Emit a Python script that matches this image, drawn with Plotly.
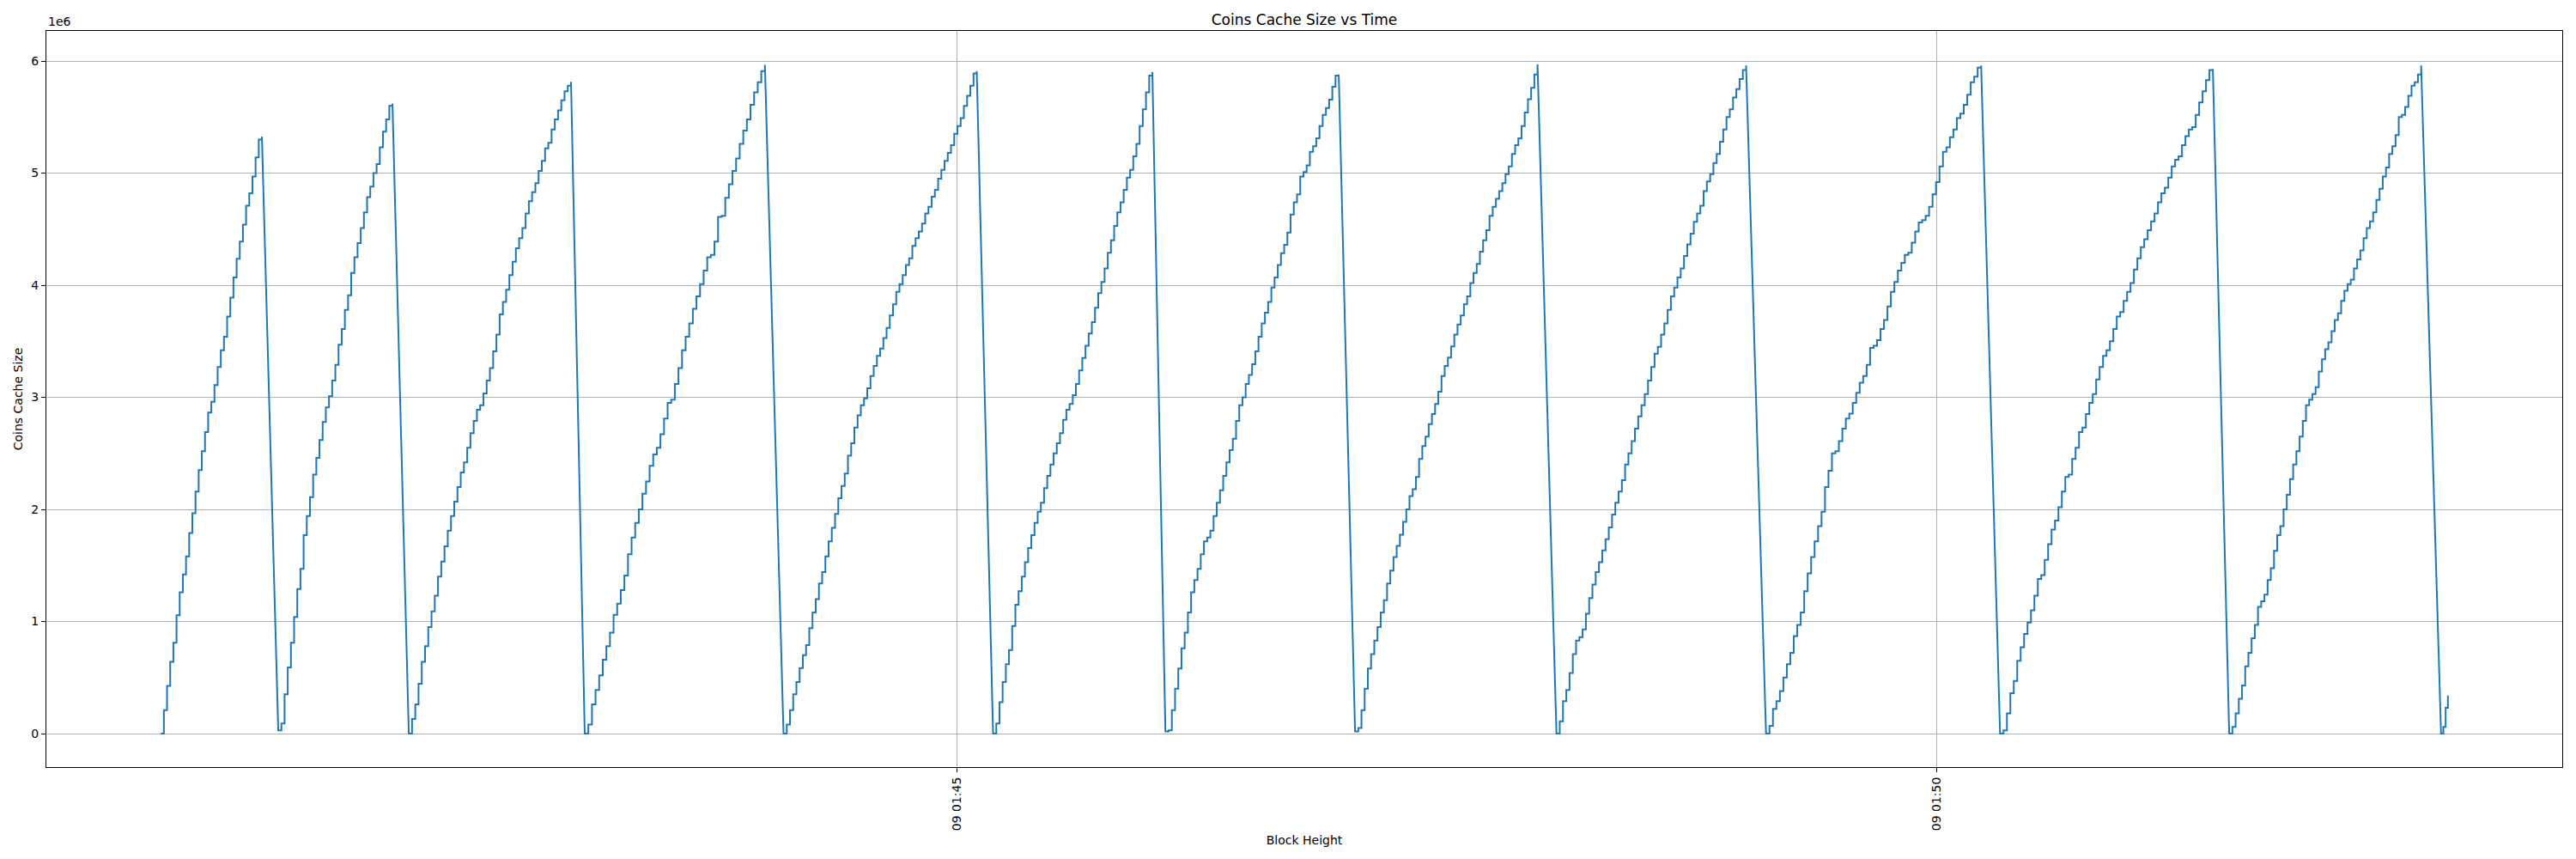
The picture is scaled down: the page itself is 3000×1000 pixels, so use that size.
import pandas as pd
import plotly.graph_objects as go

DAY = "2024-01-09 "

# Cycle start (after flush) and peak (before flush) times
cycle_start = ["01:40:56", "01:41:32", "01:42:12", "01:43:05.9", "01:44:06.8",
               "01:45:11", "01:46:03.8", "01:47:01.9", "01:48:03.6", "01:49:07.8",
               "01:50:19.5", "01:51:29.7", "01:52:34.6"]
cycle_peak = ["01:41:27", "01:42:07", "01:43:01.7", "01:44:01.1", "01:45:06",
              "01:45:59.8", "01:46:56.9", "01:47:57.8", "01:49:01.7", "01:50:13.7",
              "01:51:24.7", "01:52:28.5", "01:52:36.7"]

# Cache size levels in each cycle (millions of coins)
c1 = [0, 0.21, 0.425, 0.64, 0.81, 1.055, 1.26, 1.42, 1.58, 1.79, 1.965, 2.16, 2.35, 2.52, 2.69,
      2.865, 2.96, 3.11, 3.27, 3.42, 3.54, 3.72, 3.89, 4.07, 4.235, 4.39, 4.54, 4.71, 4.82, 4.97,
      5.14, 5.30, 5.325]
c2 = [0.03, 0.09, 0.35, 0.59, 0.81, 1.04, 1.29, 1.47, 1.77, 1.94, 2.11, 2.31, 2.46, 2.62, 2.78,
      2.91, 3.01, 3.15, 3.29, 3.47, 3.61, 3.78, 3.91, 4.11, 4.25, 4.375, 4.51, 4.65, 4.785, 4.88,
      5.00, 5.08, 5.23, 5.37, 5.48, 5.60, 5.62]
c3 = [0.0, 0.13, 0.26, 0.445, 0.64, 0.78, 0.95, 1.09, 1.23, 1.40, 1.535, 1.67, 1.81, 1.94, 2.07,
      2.20, 2.33, 2.42, 2.55, 2.68, 2.79, 2.89, 2.93, 3.035, 3.15, 3.26, 3.41, 3.56, 3.74, 3.85,
      3.96, 4.09, 4.21, 4.33, 4.42, 4.51, 4.64, 4.75, 4.83, 4.91, 5.02, 5.11, 5.22, 5.27, 5.39,
      5.48, 5.56, 5.65, 5.73, 5.78, 5.815]
c4 = [0.0, 0.08, 0.26, 0.39, 0.52, 0.66, 0.78, 0.90, 1.06, 1.16, 1.28, 1.41, 1.60, 1.75, 1.88,
      2.00, 2.14, 2.25, 2.39, 2.49, 2.55, 2.67, 2.81, 2.95, 2.98, 3.12, 3.26, 3.42, 3.54, 3.66,
      3.79, 3.90, 4.01, 4.13, 4.25, 4.27, 4.39, 4.61, 4.62, 4.78, 4.90, 5.02, 5.13, 5.26, 5.38,
      5.48, 5.61, 5.72, 5.81, 5.91, 5.965]
c5 = [0.0, 0.08, 0.21, 0.35, 0.46, 0.585, 0.70, 0.79, 0.94, 1.08, 1.20, 1.34, 1.44, 1.58, 1.715,
      1.835, 1.96, 2.10, 2.21, 2.32, 2.48, 2.59, 2.73, 2.84, 2.93, 2.99, 3.08, 3.19, 3.28, 3.37,
      3.435, 3.53, 3.62, 3.73, 3.83, 3.94, 4.01, 4.09, 4.18, 4.24, 4.35, 4.42, 4.48, 4.55, 4.64,
      4.70, 4.79, 4.85, 4.95, 5.03, 5.11, 5.18, 5.25, 5.35, 5.42, 5.49, 5.60, 5.69, 5.78, 5.89, 5.91]
c6 = [0.0, 0.09, 0.28, 0.46, 0.62, 0.745, 0.96, 1.15, 1.27, 1.40, 1.53, 1.655, 1.77, 1.88, 1.98,
      2.06, 2.19, 2.30, 2.40, 2.50, 2.59, 2.68, 2.80, 2.89, 2.94, 3.02, 3.12, 3.24, 3.35, 3.46,
      3.57, 3.67, 3.80, 3.93, 4.03, 4.15, 4.29, 4.40, 4.53, 4.65, 4.74, 4.85, 4.96, 5.03, 5.15,
      5.26, 5.42, 5.57, 5.72, 5.87, 5.90]
c7 = [0.02, 0.03, 0.21, 0.40, 0.58, 0.76, 0.90, 1.08, 1.26, 1.37, 1.47, 1.60, 1.715, 1.75, 1.81,
      1.94, 2.06, 2.17, 2.30, 2.42, 2.53, 2.63, 2.79, 2.93, 3.00, 3.12, 3.20, 3.295, 3.41, 3.54,
      3.66, 3.755, 3.85, 3.98, 4.07, 4.18, 4.285, 4.36, 4.47, 4.63, 4.74, 4.81, 4.97, 5.01, 5.07,
      5.19, 5.24, 5.31, 5.42, 5.52, 5.58, 5.655, 5.77, 5.87, 5.88]
c8 = [0.02, 0.05, 0.21, 0.40, 0.58, 0.71, 0.83, 0.95, 1.08, 1.19, 1.34, 1.455, 1.575, 1.675, 1.775,
      1.89, 2.00, 2.12, 2.18, 2.29, 2.45, 2.565, 2.65, 2.76, 2.85, 2.94, 3.05, 3.19, 3.28, 3.355,
      3.455, 3.56, 3.65, 3.73, 3.83, 3.90, 4.02, 4.11, 4.19, 4.30, 4.40, 4.49, 4.62, 4.70, 4.77,
      4.84, 4.91, 4.99, 5.06, 5.17, 5.25, 5.31, 5.42, 5.54, 5.66, 5.76, 5.88, 5.97]
c9 = [0.0, 0.11, 0.29, 0.39, 0.54, 0.71, 0.83, 0.86, 0.93, 1.07, 1.21, 1.33, 1.44, 1.53, 1.635,
      1.735, 1.84, 1.955, 2.06, 2.16, 2.26, 2.40, 2.50, 2.61, 2.72, 2.83, 2.93, 3.03, 3.15, 3.27,
      3.39, 3.45, 3.56, 3.66, 3.78, 3.90, 3.98, 4.07, 4.15, 4.26, 4.365, 4.46, 4.565, 4.64, 4.71,
      4.84, 4.925, 4.99, 5.09, 5.17, 5.28, 5.39, 5.50, 5.57, 5.675, 5.75, 5.84, 5.92, 5.96]
c10 = [0.0, 0.07, 0.22, 0.29, 0.38, 0.50, 0.62, 0.72, 0.87, 0.97, 1.08, 1.27, 1.43, 1.575, 1.715,
       1.85, 1.98, 2.20, 2.345, 2.50, 2.52, 2.61, 2.72, 2.81, 2.855, 2.95, 3.04, 3.13, 3.19, 3.29,
       3.44, 3.46, 3.51, 3.61, 3.69, 3.81, 3.94, 4.03, 4.13, 4.20, 4.27, 4.29, 4.38, 4.48, 4.56,
       4.58, 4.62, 4.70, 4.81, 4.92, 5.06, 5.19, 5.23, 5.32, 5.39, 5.49, 5.53, 5.61, 5.70, 5.81,
       5.86, 5.94, 5.96]
c11 = [0.0, 0.03, 0.18, 0.36, 0.47, 0.65, 0.77, 0.89, 0.99, 1.10, 1.23, 1.38, 1.415, 1.55, 1.69,
       1.82, 1.90, 2.02, 2.16, 2.29, 2.31, 2.45, 2.55, 2.69, 2.73, 2.85, 2.95, 3.03, 3.16, 3.27,
       3.37, 3.42, 3.50, 3.61, 3.72, 3.76, 3.86, 3.94, 4.02, 4.14, 4.24, 4.34, 4.41, 4.49, 4.57,
       4.64, 4.74, 4.82, 4.87, 4.96, 5.06, 5.12, 5.15, 5.25, 5.33, 5.39, 5.41, 5.52, 5.63, 5.73,
       5.83, 5.92, 5.93]
c12 = [0.0, 0.06, 0.18, 0.31, 0.43, 0.60, 0.72, 0.85, 0.97, 1.13, 1.18, 1.24, 1.37, 1.475, 1.63,
       1.77, 1.85, 2.00, 2.13, 2.27, 2.40, 2.52, 2.65, 2.79, 2.93, 2.98, 3.03, 3.09, 3.23, 3.34,
       3.43, 3.49, 3.59, 3.69, 3.75, 3.86, 3.95, 4.01, 4.05, 4.15, 4.23, 4.31, 4.42, 4.51, 4.57,
       4.65, 4.76, 4.86, 4.97, 5.05, 5.17, 5.24, 5.34, 5.50, 5.52, 5.59, 5.69, 5.78, 5.81, 5.88,
       5.96]
c13 = [0.0, 0.06, 0.23, 0.34]

cycles = [c1, c2, c3, c4, c5, c6, c7, c8, c9, c10, c11, c12, c13]


def ts(s):
    return pd.Timestamp(DAY + s).as_unit("ns")


def iso(t):
    return t.strftime("%Y-%m-%d %H:%M:%S.%f")[:-3]


# Build the step line: each block raises the cache one level
xt, ys = [], []
for s, p, levels in zip(cycle_start, cycle_peak, cycles):
    t0 = ts(s)
    tp = ts(p)
    n = len(levels) - 1
    dt = (tp - t0) / n
    xt.append(t0)
    ys.append(levels[0] * 1e6)
    for i in range(1, n + 1):
        ti = t0 + dt * i
        xt.extend([ti, ti])
        ys.extend([levels[i - 1] * 1e6, levels[i] * 1e6])

xs = [iso(t) for t in xt]
tmin, tmax = min(xt), max(xt)
span = tmax - tmin
xr = [iso(tmin - span * 0.05), iso(tmax + span * 0.05)]
ymax = max(ys)
yr = [-0.05 * ymax, ymax * 1.05]

FONT = "DejaVu Sans"
fig = go.Figure(go.Scatter(x=xs, y=ys, mode="lines",
                           line=dict(color="#1f77b4", width=2), hoverinfo="x+y"))

ytick_vals = [0, 1e6, 2e6, 3e6, 4e6, 5e6, 6e6]
ytick_text = ["0", "1", "2", "3", "4", "5", "6"]

W, H = 2984, 984
fig.update_layout(
    width=W, height=H,
    margin=dict(l=46, r=8, t=28, b=99),
    paper_bgcolor="white", plot_bgcolor="white",
    font=dict(family=FONT, size=14, color="black"),
    showlegend=False,
    title=dict(text="Coins Cache Size vs Time", x=0.5, xref="paper", xanchor="center",
               y=1 - 15 / H, yref="container", yanchor="middle",
               font=dict(family=FONT, size=17, color="black")),
    xaxis=dict(range=xr, type="date", tickformat="%d %H:%M", dtick=300000,
               tick0=DAY + "00:00:00", tickangle=-90,
               showgrid=True, gridcolor="#b0b0b0", gridwidth=1,
               showline=True, linecolor="black", linewidth=1, mirror=True,
               ticks="outside", ticklen=5, tickcolor="black", zeroline=False,
               title=dict(text="Block Height", standoff=6, font=dict(size=14)),
               automargin=False),
    yaxis=dict(range=yr, tickvals=ytick_vals, ticktext=ytick_text,
               showgrid=True, gridcolor="#b0b0b0", gridwidth=1,
               showline=True, linecolor="black", linewidth=1, mirror=True,
               ticks="outside", ticklen=5, tickcolor="black", zeroline=False,
               title=dict(text="Coins Cache Size", standoff=6, font=dict(size=14)),
               automargin=False),
    annotations=[dict(text="1e6", x=0, y=1, xref="paper", yref="paper",
                      xanchor="left", yanchor="bottom", showarrow=False, yshift=1,
                      font=dict(family=FONT, size=14, color="black"))],
)

fig.write_html("out.html")
